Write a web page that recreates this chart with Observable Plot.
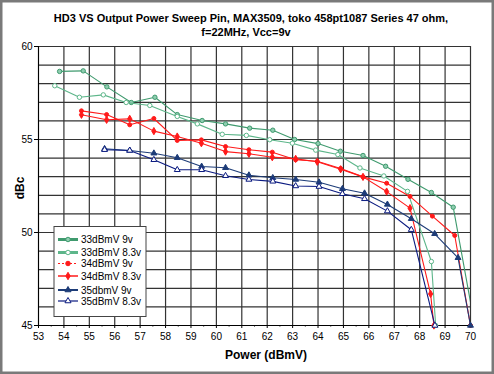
<!DOCTYPE html>
<html><head><meta charset="utf-8">
<script src="https://cdn.jsdelivr.net/npm/d3@7"></script>
<script src="https://cdn.jsdelivr.net/npm/@observablehq/plot@0.6"></script>
<style>
html,body{margin:0;padding:0;background:#fff;}
#chart{width:494px;height:374px;position:relative;}
svg{font-family:"Liberation Sans",Arial,sans-serif;}
</style></head><body><div id="chart"></div>
<script>
// ---- data ----
const xTicks = [53,54,55,56,57,58,59,60,61,62,63,64,65,66,67,68,69,70];
const yTicks = [45,50,55,60];
const yGrid = [45,46,47,48,49,50,51,52,53,54,55,56,57,58,59,60];
const seriesNames = ["33dBmV 9v","33dBmV 8.3v","34dBmV 9v","34dBmV 8.3v","35dbmV 9v","35dBmV 8.3v"];

const g9x = [53.83,54.76,55.69,56.65,57.58,58.46,59.44,60.36,61.31,62.22,63.08,64.0,64.88,65.77,66.66,67.54,68.46,69.32,70.3];
const g9y = [58.66,58.69,57.83,56.99,57.27,56.34,56.02,55.84,55.61,55.50,55.0,54.78,54.37,54.14,53.56,52.86,52.15,51.36,44.0];

const g8x = [53.64,54.61,55.55,56.45,57.38,58.46,59.25,60.23,61.18,62.1,62.99,63.91,64.78,65.65,66.59,67.52,68.46,68.63];
const g8y = [57.89,57.27,57.40,56.99,56.83,56.24,55.84,55.28,55.22,54.99,54.80,54.43,54.19,53.47,53.04,52.21,48.44,45.0];

const r9x = [54.69,55.68,56.59,57.54,58.46,59.41,60.36,61.28,62.20,63.12,63.97,64.89,65.77,66.70,67.62,68.50,69.38,70.0];
const r9y = [56.54,56.34,55.79,56.13,54.95,54.98,54.62,54.45,54.32,53.91,53.83,53.44,52.99,52.65,51.94,50.88,49.84,45.0];

const r8x = [54.69,55.68,56.59,57.54,58.46,59.41,60.36,61.28,62.20,63.12,63.97,64.89,65.77,66.70,67.62,68.43,68.56];
const r8y = [56.33,56.06,56.11,55.45,55.16,54.80,54.35,54.23,54.05,53.96,53.80,53.40,52.99,52.20,51.31,46.70,45.0];

const b9x = [55.60,56.59,57.54,58.46,59.42,60.36,61.28,62.22,63.12,64.04,64.96,65.83,66.73,67.67,68.59,69.51,70.0];
const b9y = [54.50,54.41,54.26,54.02,53.55,53.48,53.08,52.94,52.85,52.70,52.35,52.11,51.51,50.74,49.93,48.64,45.0];

const b8x = [55.60,56.59,57.54,58.46,59.42,60.36,61.28,62.22,63.12,64.04,64.96,65.83,66.73,67.67,68.60];
const b8y = [54.45,54.41,53.91,53.37,53.37,53.05,52.85,52.75,52.50,52.47,52.08,51.81,51.15,50.15,45.0];

// ---- styling per series ----
const styles = [
  {name:seriesNames[0], xs:g9x, ys:g9y, color:"#3f9a6e", symbol:"circle", fill:"#8fcdb0", r:2.2, lw:1.1, legendW:3, dash:null},
  {name:seriesNames[1], xs:g8x, ys:g8y, color:"#5db68a", symbol:"circle", fill:"#ffffff", r:2.2, lw:1.1, legendW:3, dash:null},
  {name:seriesNames[2], xs:r9x, ys:r9y, color:"#ff1a1a", symbol:"circle", fill:"#ff1a1a", r:2.0, lw:1.1, legendW:1, dash:"2,2"},
  {name:seriesNames[3], xs:r8x, ys:r8y, color:"#ff1a1a", symbol:"diamond", fill:"#ff1a1a", r:2.2, lw:1.1, legendW:1.5, dash:null},
  {name:seriesNames[4], xs:b9x, ys:b9y, color:"#1d3c78", symbol:"triangle", fill:"#1d3c78", r:2.2, lw:1.1, legendW:2, dash:null},
  {name:seriesNames[5], xs:b8x, ys:b8y, color:"#0a1a80", symbol:"triangle", fill:"#ffffff", r:2.2, lw:1.1, legendW:1.2, dash:null}
];

const marks = [
  Plot.gridY(yGrid, {stroke:"#333", strokeOpacity:1, strokeWidth:1.2}),
  Plot.gridX(xTicks, {stroke:"#333", strokeOpacity:1, strokeWidth:1.2}),
  Plot.ruleX([53], {stroke:"#000"}),
  Plot.ruleY([45], {stroke:"#000"}),
  Plot.axisY(yTicks, {tickSize:4, tickPadding:2, fontSize:10, label:null, color:"#000"}),
  Plot.axisX(xTicks, {tickSize:3, tickPadding:4, fontSize:10, label:null, color:"#000"}),
  Plot.axisX(xTicks.slice(0,-1).map(v=>v+0.5), {tickSize:1.5, text:null, label:null, color:"#000"})
];
for (const s of styles) {
  const pts = s.xs.map((x,i)=>({x, y:s.ys[i]}));
  marks.push(Plot.line(pts, {x:"x", y:"y", stroke:s.color, strokeWidth:s.lw, clip:true}));
  marks.push(Plot.dot(pts.filter(d=>d.x<=70), {x:"x", y:"y", symbol:s.symbol, r:s.r, fill:s.fill, stroke:s.color, strokeWidth:1}));
}

const plot = Plot.plot({
  width:494, height:374,
  marginLeft:38, marginRight:24, marginTop:46, marginBottom:49,
  x:{domain:[53,70]},
  y:{domain:[45,60]},
  style:{background:"#fff", color:"#000", fontFamily:"Liberation Sans, Arial, sans-serif"},
  marks
});
document.getElementById("chart").appendChild(plot);

const svg = d3.select(plot);
// outer border
svg.append("rect").attr("x",1.25).attr("y",1.25).attr("width",491.5).attr("height",371.5)
  .attr("fill","none").attr("stroke","#7a7a7a").attr("stroke-width",2.5);
// titles
svg.append("text").attr("x",251).attr("y",22).attr("text-anchor","middle")
  .attr("font-size",11).attr("font-weight","bold")
  .text("HD3 VS Output Power Sweep Pin, MAX3509, toko 458pt1087 Series 47 ohm,");
svg.append("text").attr("x",246).attr("y",36).attr("text-anchor","middle")
  .attr("font-size",11).attr("font-weight","bold").text("f=22MHz, Vcc=9v");
svg.append("text").attr("x",266).attr("y",359).attr("text-anchor","middle")
  .attr("font-size",12).attr("font-weight","bold").text("Power (dBmV)");
svg.append("text").attr("transform","translate(24,188) rotate(-90)").attr("text-anchor","middle")
  .attr("font-size",12).attr("font-weight","bold").text("dBc");

// legend
const lg = svg.append("g").attr("text-anchor","start");
lg.append("rect").attr("x",54).attr("y",226.5).attr("width",92).attr("height",90)
  .attr("fill","#fff").attr("stroke","#444").attr("stroke-width",1);
const rowY = [239.5,252.5,263.5,276,290,301];
styles.forEach((s,i)=>{
  const y = rowY[i];
  const ln = lg.append("line").attr("x1",58).attr("x2",78).attr("y1",y).attr("y2",y)
    .attr("stroke",s.color).attr("stroke-width",s.legendW);
  if (s.dash) ln.attr("stroke-dasharray",s.dash);
  const sym = s.symbol==="circle"?d3.symbolCircle:s.symbol==="diamond"?d3.symbolDiamond:d3.symbolTriangle;
  lg.append("path").attr("d",d3.symbol(sym, 16)()).attr("transform",`translate(68,${y})`)
    .attr("fill",s.fill).attr("stroke",s.color).attr("stroke-width",1);
  lg.append("text").attr("x",81).attr("y",y).attr("dy","0.35em").attr("font-size",10)
    .attr("text-anchor","start").attr("fill","#000").text(s.name);
});
</script></body></html>
